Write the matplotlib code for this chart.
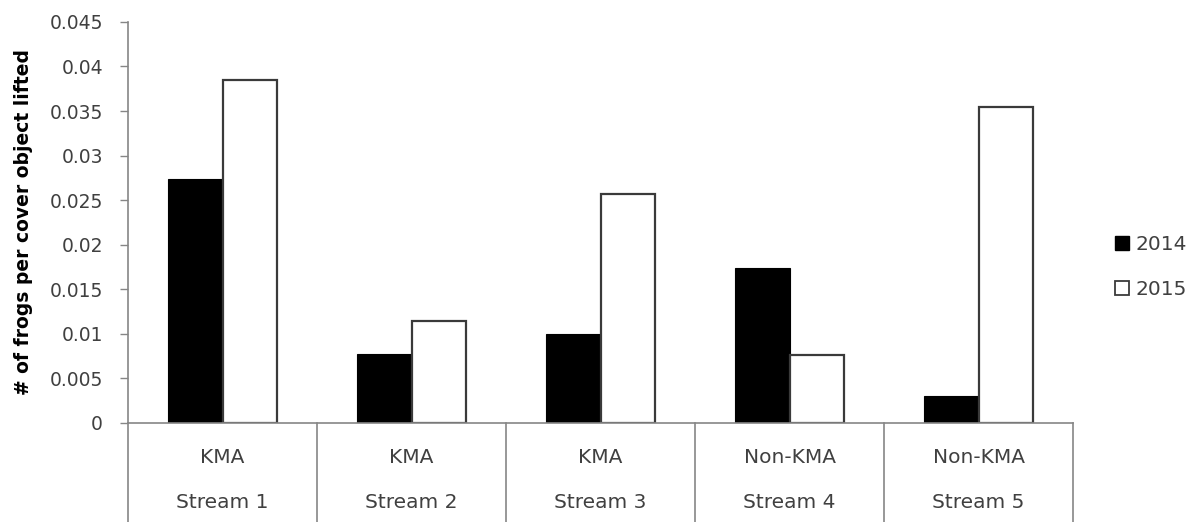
import numpy as np
import matplotlib.pyplot as plt
import matplotlib.transforms as mtransforms
from matplotlib.lines import Line2D

# frogs found per cover object lifted, by stream and survey year
streams = ["Stream 1", "Stream 2", "Stream 3", "Stream 4", "Stream 5"]
management = ["KMA", "KMA", "KMA", "Non-KMA", "Non-KMA"]
frogs_2014 = [0.0274, 0.0077, 0.0100, 0.0174, 0.0030]
frogs_2015 = [0.0385, 0.0114, 0.0257, 0.0076, 0.0354]

AXIS_GREY = "#868686"
TEXT_GREY = "#404040"

plt.rcParams['font.family'] = ['DejaVu Sans']

fig = plt.figure(figsize=(12, 5.22), dpi=100)
ax = fig.add_axes([0.1067, 0.19, 0.7875, 0.768])

x = np.arange(len(streams))
width = 0.286
ax.bar(x - width / 2, frogs_2014, width, color='black', edgecolor='black', linewidth=0.8)
ax.bar(x + width / 2, frogs_2015, width, color='white', edgecolor='#3a3a3a', linewidth=1.6)

ax.set_xlim(-0.5, len(streams) - 0.5)
ax.set_ylim(0, 0.045)
ax.set_yticks(np.arange(0, 0.0451, 0.005))
ax.set_yticklabels(["0", "0.005", "0.01", "0.015", "0.02", "0.025",
                    "0.03", "0.035", "0.04", "0.045"])
ax.tick_params(axis='y', direction='out', length=6, color=AXIS_GREY, width=1,
               labelsize=13.5, labelcolor=TEXT_GREY, pad=12)
ax.set_xticks([])

for side in ('top', 'right'):
    ax.spines[side].set_visible(False)
for side in ('left', 'bottom'):
    ax.spines[side].set_color(AXIS_GREY)
    ax.spines[side].set_linewidth(1.2)

ax.set_ylabel("# of frogs per cover object lifted", fontsize=13.5,
              fontweight='bold', color='black')
ax.yaxis.set_label_coords(-0.101, 0.5)

# two-level category axis: divider lines plus management / stream rows
trans = mtransforms.blended_transform_factory(ax.transData, ax.transAxes)
for d in np.arange(-0.5, len(streams), 1.0):
    ax.plot([d, d], [0, -0.30], transform=trans, color=AXIS_GREY,
            linewidth=1.2, clip_on=False)
for i in x:
    ax.text(i, -0.087, management[i], transform=trans, ha='center', va='center',
            fontsize=14.5, color=TEXT_GREY)
    ax.text(i, -0.2, streams[i], transform=trans, ha='center', va='center',
            fontsize=14.5, color=TEXT_GREY)

handles = [
    Line2D([], [], linestyle='none', marker='s', markersize=10,
           markerfacecolor='black', markeredgecolor='black'),
    Line2D([], [], linestyle='none', marker='s', markersize=10,
           markerfacecolor='white', markeredgecolor='#3a3a3a', markeredgewidth=1.3),
]
fig.legend(handles, ["2014", "2015"], loc='center left',
           bbox_to_anchor=(0.913, 0.488), frameon=False, fontsize=14.5,
           handlelength=0.8, handletextpad=0.3, labelspacing=1.3,
           labelcolor=TEXT_GREY)

fig.savefig("out.png", dpi=100, facecolor='white')
